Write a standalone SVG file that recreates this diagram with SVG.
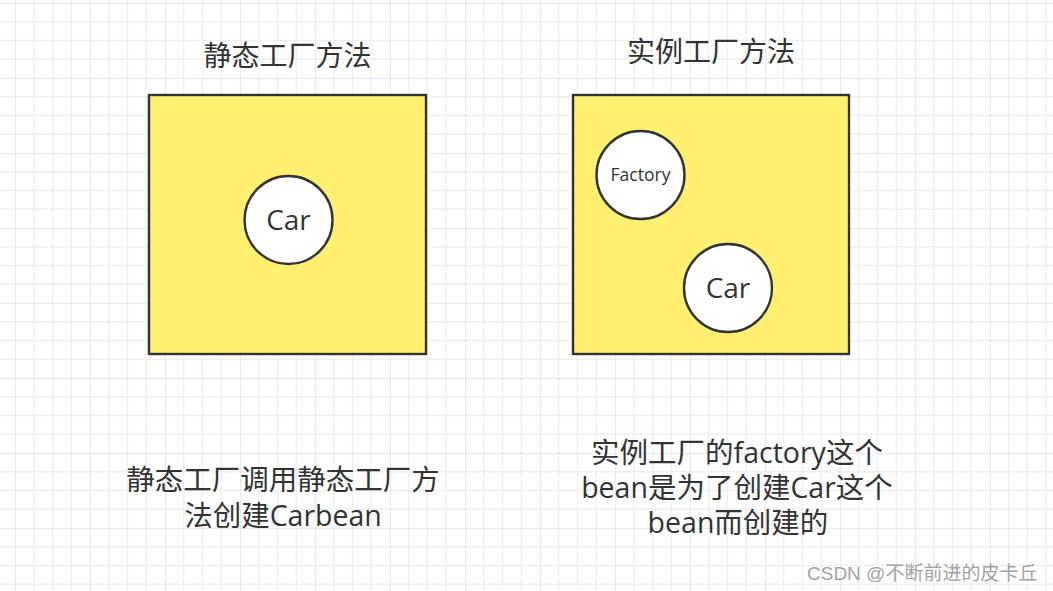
<svg xmlns="http://www.w3.org/2000/svg" width="1053" height="591" viewBox="0 0 1053 591">
<style>
.box{fill:#fff06f;stroke:#333;stroke-width:2.4}
.obj{fill:#fff;stroke:#333;stroke-width:2.4}
.t{font-family:'Open Sans','Noto Sans CJK SC',sans-serif;fill:#333;text-anchor:middle}
.wm{font-family:'Liberation Sans','Noto Sans CJK SC',sans-serif;fill:#a3a3a3;font-size:19px}
</style>
<defs>
<pattern id="grid" patternUnits="userSpaceOnUse" x="15" y="3" width="75" height="75">
<path d="M18.75 0V75M37.5 0V75M56.25 0V75M0 18.75H75M0 37.5H75M0 56.25H75" stroke="#efefef" stroke-width="1.3" fill="none"/>
<path d="M0 0V75M0 0H75" stroke="#e2e2e2" stroke-width="1.5" fill="none"/>
</pattern>
</defs>
<rect width="1053" height="591" fill="#fff"/>
<rect width="1053" height="591" fill="url(#grid)"/>
<g id="title-static"><text class="t" x="287.5" y="65.5" font-size="28">静态工厂方法</text></g>
<g id="title-instance"><text class="t" x="711" y="62" font-size="28">实例工厂方法</text></g>
<g id="static-box"><rect class="box" x="149" y="95" width="277" height="259"/></g>
<g id="static-car"><circle class="obj" cx="288.5" cy="220" r="44"/><text class="t" x="288.5" y="230" font-size="28">Car</text></g>
<g id="instance-box"><rect class="box" x="573" y="95" width="276" height="259"/></g>
<g id="factory"><circle class="obj" cx="640.5" cy="175" r="44"/><text class="t" x="640.5" y="181" font-size="17.5">Factory</text></g>
<g id="instance-car"><circle class="obj" cx="728" cy="288" r="44"/><text class="t" x="728" y="298" font-size="28">Car</text></g>
<g id="note-static"><text class="t" font-size="28.5"><tspan x="283" y="490">静态工厂调用静态工厂方</tspan><tspan x="283" y="525.5">法创建Carbean</tspan></text></g>
<g id="note-instance"><text class="t" font-size="28.5"><tspan x="737" y="462.5">实例工厂的factory这个</tspan><tspan x="737" y="497.5">bean是为了创建Car这个</tspan><tspan x="738" y="532.5">bean而创建的</tspan></text></g>
<g id="connectors"></g>
<text class="wm" x="807" y="580">CSDN @不断前进的皮卡丘</text>
</svg>
